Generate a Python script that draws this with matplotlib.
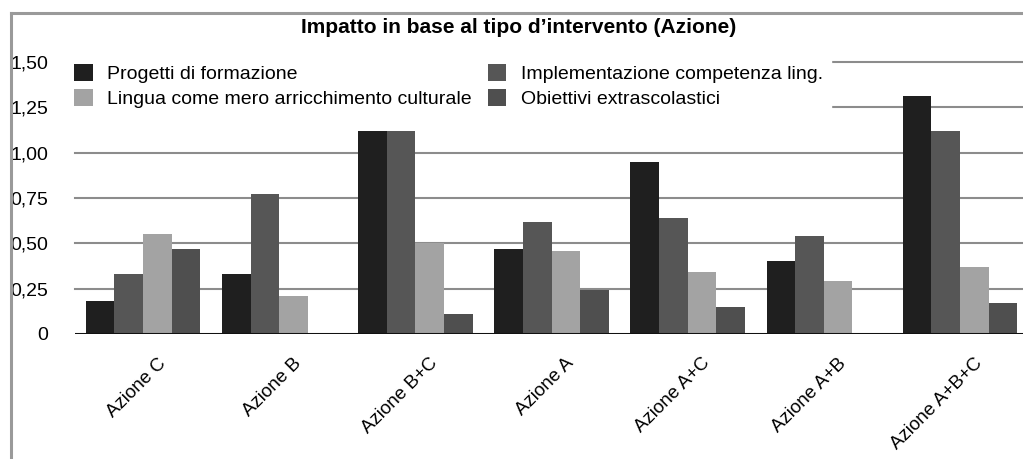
import matplotlib
matplotlib.use('Agg')
import numpy as np
import matplotlib.pyplot as plt
from matplotlib.lines import Line2D
from matplotlib.transforms import ScaledTranslation

plt.rcParams['font.family'] = ['Liberation Sans', 'DejaVu Sans']

# data
categories = ["Azione C", "Azione B", "Azione B+C", "Azione A",
              "Azione A+C", "Azione A+B", "Azione A+B+C"]
progetti = [0.18, 0.33, 1.12, 0.47, 0.95, 0.40, 1.31]
implementazione = [0.33, 0.77, 1.12, 0.62, 0.64, 0.54, 1.12]
lingua = [0.55, 0.21, 0.50, 0.46, 0.34, 0.29, 0.37]
obiettivi = [0.47, 0.0, 0.11, 0.24, 0.15, 0.0, 0.17]
series_names = ["Progetti di formazione", "Implementazione competenza ling.",
                "Lingua come mero arricchimento culturale", "Obiettivi extrascolastici"]
yticks = [0, 0.25, 0.5, 0.75, 1.0, 1.25, 1.5]
ytick_labels = ["0", "0,25", "0,50", "0,75", "1,00", "1,25", "1,50"]

colors = ["#1f1f1f", "#565656", "#a3a3a3", "#4f4f4f"]

fig = plt.figure(figsize=(10.23, 4.59), dpi=100)
ax = fig.add_axes([75/1023, (459-334)/459, 1 - 75/1023, (334-62)/459])

x = np.arange(len(categories))
w = 0.21
bars = []
for k, vals in enumerate([progetti, implementazione, lingua, obiettivi]):
    b = ax.bar(x + (k - 1.5) * w, vals, w, color=colors[k], label=series_names[k], zorder=3)
    bars.append(b)

ax.set_xlim(-0.5, 6.463)
ax.set_ylim(0, 1.5)
ax.set_yticks(yticks)
ax.set_yticklabels(ytick_labels, fontsize=14)
ax.tick_params(axis='y', length=0, pad=19)
for y in yticks[1:]:
    ax.axhline(y, color="#8c8c8c", lw=1.5, zorder=1, clip_on=False)
ax.axhline(0, color="#111111", lw=2.2, zorder=4)
for s in ax.spines.values():
    s.set_visible(False)

ax.set_xticks(x)
ax.set_xticklabels(categories, fontsize=13.5, rotation=45, ha='right', rotation_mode='anchor')
ax.tick_params(axis='x', length=0, pad=15)
for lab in ax.get_xticklabels():
    lab.set_transform(lab.get_transform() + ScaledTranslation(0.14, 0, fig.dpi_scale_trans))

# legend in two columns: col1 Progetti/Lingua, col2 Implementazione/Obiettivi
order = [0, 2, 1, 3]
leg = ax.legend([bars[i] for i in order], [series_names[i] for i in order],
                ncol=2, loc='upper left', bbox_to_anchor=(-0.010, 1.025),
                fontsize=14, frameon=True, fancybox=False, framealpha=1,
                edgecolor='white', facecolor='white', handlelength=0.95,
                handleheight=0.95, handletextpad=0.75, columnspacing=0.8,
                labelspacing=0.3, borderpad=0.45, borderaxespad=0)
leg.set_zorder(5)

fig.text(0.507, 0.94, "Impatto in base al tipo d\u2019intervento (Azione)",
         fontsize=15, fontweight='bold', ha='center', va='center')

# outer frame lines
fig.add_artist(Line2D([11/1023, 11/1023], [0, 1 - 13/459], color="#9a9a9a", lw=2.2))
fig.add_artist(Line2D([11/1023, 1], [1 - 13/459, 1 - 13/459], color="#9a9a9a", lw=2.2))

fig.savefig("out.png", dpi=100)
